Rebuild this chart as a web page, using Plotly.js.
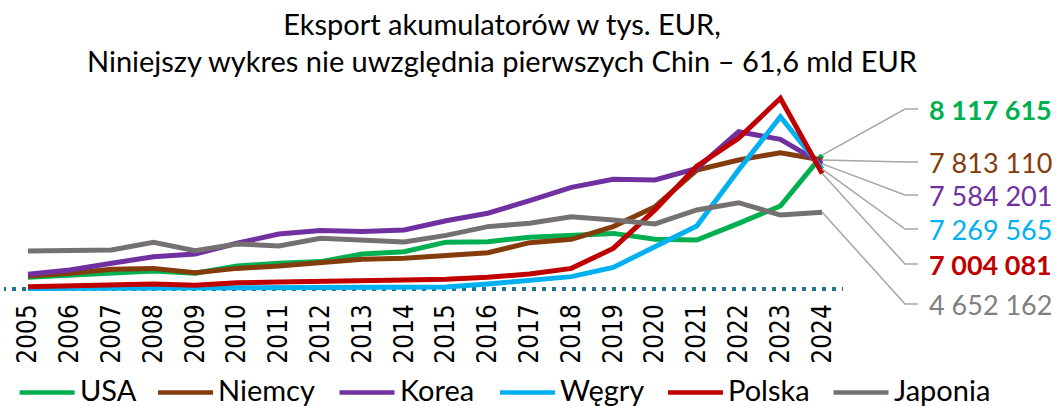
<!DOCTYPE html>
<html><head><meta charset="utf-8">
<script src="https://cdn.plot.ly/plotly-3.0.1.min.js"></script>
<style>html,body{margin:0;padding:0;background:#fff}#chart{width:1056px;height:406px}</style>
</head><body><div id="chart"></div>
<script>
// ---- data (tys. EUR) ----
const years = [2005,2006,2007,2008,2009,2010,2011,2012,2013,2014,2015,2016,2017,2018,2019,2020,2021,2022,2023,2024];
const usa     = [710000,850000,990000,1090000,950000,1390000,1560000,1660000,2120000,2260000,2840000,2870000,3130000,3230000,3370000,3010000,2970000,3980000,5030000,8117615];
const niemcy  = [790000,950000,1190000,1250000,990000,1250000,1390000,1560000,1800000,1860000,2060000,2200000,2810000,3010000,3780000,4990000,7210000,7820000,8260000,7813110];
const korea   = [890000,1150000,1560000,1960000,2120000,2770000,3330000,3540000,3480000,3580000,4140000,4590000,5350000,6160000,6650000,6610000,7310000,9530000,9070000,7584201];
const wegry   = [30000,40000,50000,60000,40000,80000,90000,90000,100000,100000,120000,300000,550000,750000,1310000,2570000,3820000,7210000,10440000,7269565];
const polska  = [140000,180000,260000,300000,220000,380000,420000,440000,520000,550000,590000,710000,910000,1250000,2460000,4790000,7450000,9130000,11560000,7004081];
const japonia = [2300000,2310000,2360000,2830000,2320000,2730000,2610000,3070000,2950000,2850000,3250000,3780000,3980000,4380000,4180000,3940000,4790000,5230000,4480000,4652162];

const seriesNames  = ['USA','Niemcy','Korea','Węgry','Polska','Japonia'];
const seriesValues = [usa, niemcy, korea, wegry, polska, japonia];
const seriesColors = ['#00b050','#843c0c','#7030a0','#00b0f0','#c00000','#767171'];
const labelColors  = ['#00b050','#843c0c','#7030a0','#00b0f0','#c00000','#808080'];
const labelBold    = [true,false,false,false,true,false];
const titleText = 'Eksport akumulatorów w tys. EUR,<br>Niniejszy wykres nie uwzględnia pierwszych Chin – 61,6 mld EUR';

// ---- geometry ----
const W = 1056, H = 406, ML = 4, MR = 0, MT = 80, MB = 94;
const pxPerYear = 41.8, firstYearPx = 28;
const xr0 = years[0] - (firstYearPx - ML) / pxPerYear;
const xr1 = xr0 + (W - ML - MR) / pxPerYear;
const zeroPx = 289, pxPerUnit = 16.5 / 1e6;
const yr0 = -((H - MB) - zeroPx) / pxPerUnit;
const yr1 = (zeroPx - MT) / pxPerUnit;
const xAt = px => xr0 + (px - ML) / pxPerYear;
const yAt = py => (zeroPx - py) / pxPerUnit;

const labelYpx = [109, 162, 195, 229, 264, 304];
const kinkXpx = 905, stubXpx = 918, textXpx = 927;
// legend layout (px)
const legSymX = [19.6, 158, 339.5, 500, 668, 833.5];
const legSymLen = 55, legTextGap = 4, legYpx = 392.5, legTextYpx = 389;

const fmt = v => String(v).replace(/\B(?=(\d{3})+(?!\d))/g, ' ');

const traces = seriesNames.map((n, i) => ({
  type: 'scatter', mode: 'lines', name: n, x: years, y: seriesValues[i],
  line: {color: seriesColors[i], width: 5},
  hoverinfo: 'skip', showlegend: false
}));

const shapes = [{
  type: 'line', xref: 'x', yref: 'y', x0: xAt(2), x1: xAt(843), y0: 0, y1: 0,
  line: {color: '#1f7391', width: 4, dash: '4px,6px'}, layer: 'below'
}];
const annotations = [];
seriesValues.forEach((vals, i) => {
  const last = vals[vals.length - 1];
  const ky = yAt(labelYpx[i]);
  shapes.push({
    type: 'path', xref: 'x', yref: 'y',
    path: `M ${years[years.length-1]},${last} L ${xAt(kinkXpx)},${ky} L ${xAt(stubXpx)},${ky}`,
    line: {color: '#a6a6a6', width: 1.5}
  });
  const t = fmt(last);
  annotations.push({
    xref: 'x', yref: 'y', x: xAt(textXpx), y: ky, xanchor: 'left', yanchor: 'middle',
    text: labelBold[i] ? '<b>' + t + '</b>' : t, showarrow: false,
    font: {family: 'Lato, sans-serif', size: 27, color: labelColors[i]}
  });
});
// legend entries
const plotW = W - ML - MR, plotH = H - MT - MB;
seriesNames.forEach((n, i) => {
  shapes.push({
    type: 'line', xref: 'paper', yref: 'paper',
    x0: (legSymX[i] - ML) / plotW, x1: (legSymX[i] + legSymLen - ML) / plotW,
    y0: (H - MB - legYpx) / plotH, y1: (H - MB - legYpx) / plotH,
    line: {color: seriesColors[i], width: 4.5}
  });
  annotations.push({
    xref: 'paper', yref: 'paper',
    x: (legSymX[i] + legSymLen + legTextGap - ML) / plotW,
    y: (H - MB - legTextYpx) / plotH, xanchor: 'left', yanchor: 'middle',
    text: n, showarrow: false, borderpad: 0,
    font: {family: 'Lato, sans-serif', size: 29, color: '#000'}
  });
});

const layout = {
  width: W, height: H,
  margin: {l: ML, r: MR, t: MT, b: MB, pad: 0},
  paper_bgcolor: '#fff', plot_bgcolor: '#fff',
  title: {text: titleText, font: {family: 'Lato, sans-serif', size: 29, color: '#000'},
          xref: 'container', x: 502/1056, xanchor: 'center', yref: 'container', y: 1 - 34.6/406, yanchor: 'top'},
  xaxis: {range: [xr0, xr1], tickvals: years, ticktext: years.map(String), tickangle: -90,
          tickfont: {family: '"Liberation Sans Narrow", "DejaVu Sans Condensed", sans-serif', size: 26, color: '#000'},
          showgrid: false, zeroline: false, showline: false, ticks: '', ticklabelstandoff: -14, fixedrange: true},
  yaxis: {range: [yr0, yr1], visible: false, fixedrange: true},
  showlegend: false,
  shapes: shapes, annotations: annotations
};
Plotly.newPlot('chart', traces, layout, {displayModeBar: false, staticPlot: true});
</script></body></html>
